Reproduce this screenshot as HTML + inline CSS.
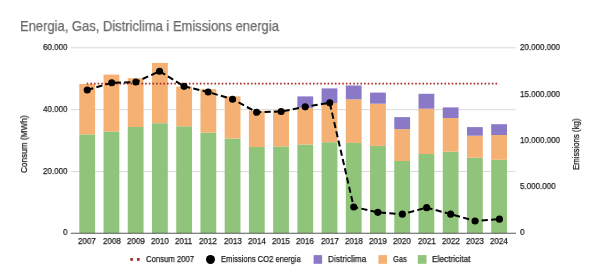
<!DOCTYPE html>
<html><head><meta charset="utf-8"><style>
html,body{margin:0;padding:0;background:#fff;}
body{width:600px;height:278px;position:relative;overflow:hidden;font-family:"Liberation Sans",sans-serif;}
.tx{position:absolute;white-space:nowrap;transform-origin:0 0;will-change:transform;-webkit-text-stroke:0.25px currentColor;}
svg{position:absolute;left:0;top:0;}
</style></head><body>
<svg width="600" height="278" viewBox="0 0 600 278">
<line x1="71" y1="47.8" x2="515.5" y2="47.8" stroke="#d9d9d9" stroke-width="1"/>
<line x1="71" y1="109.7" x2="515.5" y2="109.7" stroke="#d9d9d9" stroke-width="1"/>
<line x1="71" y1="171.6" x2="515.5" y2="171.6" stroke="#d9d9d9" stroke-width="1"/>
<rect x="79.30" y="134.4" width="15.8" height="98.90" fill="#91c47b"/>
<rect x="79.30" y="84.0" width="15.8" height="50.40" fill="#f4b173"/>
<rect x="103.53" y="131.4" width="15.8" height="101.90" fill="#91c47b"/>
<rect x="103.53" y="74.6" width="15.8" height="56.80" fill="#f4b173"/>
<rect x="127.76" y="127.0" width="15.8" height="106.30" fill="#91c47b"/>
<rect x="127.76" y="78.2" width="15.8" height="48.80" fill="#f4b173"/>
<rect x="151.99" y="123.2" width="15.8" height="110.10" fill="#91c47b"/>
<rect x="151.99" y="62.9" width="15.8" height="60.30" fill="#f4b173"/>
<rect x="176.22" y="126.3" width="15.8" height="107.00" fill="#91c47b"/>
<rect x="176.22" y="86.6" width="15.8" height="39.70" fill="#f4b173"/>
<rect x="200.45" y="132.7" width="15.8" height="100.60" fill="#91c47b"/>
<rect x="200.45" y="89.2" width="15.8" height="43.50" fill="#f4b173"/>
<rect x="224.68" y="138.5" width="15.8" height="94.80" fill="#91c47b"/>
<rect x="224.68" y="96.3" width="15.8" height="42.20" fill="#f4b173"/>
<rect x="248.91" y="147" width="15.8" height="86.30" fill="#91c47b"/>
<rect x="248.91" y="110.8" width="15.8" height="36.20" fill="#f4b173"/>
<rect x="273.14" y="146.4" width="15.8" height="86.90" fill="#91c47b"/>
<rect x="273.14" y="109.9" width="15.8" height="36.50" fill="#f4b173"/>
<rect x="297.36" y="144.5" width="15.8" height="88.80" fill="#91c47b"/>
<rect x="297.36" y="107.8" width="15.8" height="36.70" fill="#f4b173"/>
<rect x="297.36" y="96.4" width="15.8" height="11.40" fill="#8a79c6"/>
<rect x="321.59" y="142.2" width="15.8" height="91.10" fill="#91c47b"/>
<rect x="321.59" y="103.0" width="15.8" height="39.20" fill="#f4b173"/>
<rect x="321.59" y="88.4" width="15.8" height="14.60" fill="#8a79c6"/>
<rect x="345.82" y="142.9" width="15.8" height="90.40" fill="#91c47b"/>
<rect x="345.82" y="99.3" width="15.8" height="43.60" fill="#f4b173"/>
<rect x="345.82" y="85.5" width="15.8" height="13.80" fill="#8a79c6"/>
<rect x="370.05" y="145.9" width="15.8" height="87.40" fill="#91c47b"/>
<rect x="370.05" y="103.7" width="15.8" height="42.20" fill="#f4b173"/>
<rect x="370.05" y="92.6" width="15.8" height="11.10" fill="#8a79c6"/>
<rect x="394.28" y="161.0" width="15.8" height="72.30" fill="#91c47b"/>
<rect x="394.28" y="129.1" width="15.8" height="31.90" fill="#f4b173"/>
<rect x="394.28" y="117.1" width="15.8" height="12.00" fill="#8a79c6"/>
<rect x="418.51" y="154.0" width="15.8" height="79.30" fill="#91c47b"/>
<rect x="418.51" y="108.7" width="15.8" height="45.30" fill="#f4b173"/>
<rect x="418.51" y="93.8" width="15.8" height="14.90" fill="#8a79c6"/>
<rect x="442.74" y="151.7" width="15.8" height="81.60" fill="#91c47b"/>
<rect x="442.74" y="118" width="15.8" height="33.70" fill="#f4b173"/>
<rect x="442.74" y="107.4" width="15.8" height="10.60" fill="#8a79c6"/>
<rect x="466.97" y="157.7" width="15.8" height="75.60" fill="#91c47b"/>
<rect x="466.97" y="135.7" width="15.8" height="22.00" fill="#f4b173"/>
<rect x="466.97" y="127.1" width="15.8" height="8.60" fill="#8a79c6"/>
<rect x="491.20" y="159.8" width="15.8" height="73.50" fill="#91c47b"/>
<rect x="491.20" y="135.0" width="15.8" height="24.80" fill="#f4b173"/>
<rect x="491.20" y="124.2" width="15.8" height="10.80" fill="#8a79c6"/>
<line x1="70.8" y1="233.3" x2="516" y2="233.3" stroke="#595959" stroke-width="1.1"/>
<line x1="86.7" y1="83.7" x2="498.3" y2="83.7" stroke="#a82c26" stroke-width="1.7" stroke-dasharray="1.6 2.05"/>
<polyline points="87.25,89.95 111.75,82.75 135.85,82.05 159.55,71.25 184.05,86.35 208.15,92.05 232.55,99.25 256.65,112.25 281.15,111.55 305.25,106.85 329.75,102.85 353.75,206.95 377.85,212.35 402.35,214.15 426.65,207.65 450.65,214.15 475.05,220.95 499.45,219.15" fill="none" stroke="#000" stroke-width="2" stroke-dasharray="6.2 3.3"/>
<circle cx="87.25" cy="89.95" r="3.55" fill="#000"/>
<circle cx="111.75" cy="82.75" r="3.55" fill="#000"/>
<circle cx="135.85" cy="82.05" r="3.55" fill="#000"/>
<circle cx="159.55" cy="71.25" r="3.55" fill="#000"/>
<circle cx="184.05" cy="86.35" r="3.55" fill="#000"/>
<circle cx="208.15" cy="92.05" r="3.55" fill="#000"/>
<circle cx="232.55" cy="99.25" r="3.55" fill="#000"/>
<circle cx="256.65" cy="112.25" r="3.55" fill="#000"/>
<circle cx="281.15" cy="111.55" r="3.55" fill="#000"/>
<circle cx="305.25" cy="106.85" r="3.55" fill="#000"/>
<circle cx="329.75" cy="102.85" r="3.55" fill="#000"/>
<circle cx="353.75" cy="206.95" r="3.55" fill="#000"/>
<circle cx="377.85" cy="212.35" r="3.55" fill="#000"/>
<circle cx="402.35" cy="214.15" r="3.55" fill="#000"/>
<circle cx="426.65" cy="207.65" r="3.55" fill="#000"/>
<circle cx="450.65" cy="214.15" r="3.55" fill="#000"/>
<circle cx="475.05" cy="220.95" r="3.55" fill="#000"/>
<circle cx="499.45" cy="219.15" r="3.55" fill="#000"/>
<rect x="130.3" y="258" width="2.6" height="2.8" fill="#a82c26"/><rect x="137" y="258" width="2.6" height="2.8" fill="#a82c26"/>
<circle cx="210.5" cy="259.5" r="4.5" fill="#000"/>
<rect x="313.6" y="255.1" width="8.5" height="8.7" fill="#8a79c6"/>
<rect x="378.4" y="255.1" width="8.6" height="8.7" fill="#f4b173"/>
<rect x="417.8" y="255.1" width="8.7" height="8.7" fill="#91c47b"/>
</svg>
<div class="tx" style="left:20.36px;top:18px;font-size:14.2px;line-height:16px;color:#6b6b6b;transform:scaleX(0.9145);">Energia, Gas, Districlima i Emissions energia</div>
<div class="tx" style="left:42.66px;top:42px;font-size:9px;line-height:10px;color:#222222;transform:scaleX(0.8900);">60.000</div>
<div class="tx" style="left:42.66px;top:104px;font-size:9px;line-height:10px;color:#222222;transform:scaleX(0.8900);">40.000</div>
<div class="tx" style="left:42.66px;top:166px;font-size:9px;line-height:10px;color:#222222;transform:scaleX(0.8900);">20.000</div>
<div class="tx" style="left:62.68px;top:227px;font-size:9px;line-height:10px;color:#222222;transform:scaleX(0.8900);">0</div>
<div class="tx" style="left:520.18px;top:42px;font-size:9px;line-height:10px;color:#222222;transform:scaleX(0.8900);">20.000.000</div>
<div class="tx" style="left:519.97px;top:89px;font-size:9px;line-height:10px;color:#222222;transform:scaleX(0.8900);">15.000.000</div>
<div class="tx" style="left:519.97px;top:135px;font-size:9px;line-height:10px;color:#222222;transform:scaleX(0.8900);">10.000.000</div>
<div class="tx" style="left:520.18px;top:181px;font-size:9px;line-height:10px;color:#222222;transform:scaleX(0.8900);">5.000.000</div>
<div class="tx" style="left:520.18px;top:227px;font-size:9px;line-height:10px;color:#222222;transform:scaleX(0.8900);">0</div>
<div class="tx" style="left:78.29px;top:236px;font-size:9px;line-height:10px;color:#222222;transform:scaleX(0.8900);">2007</div>
<div class="tx" style="left:102.52px;top:236px;font-size:9px;line-height:10px;color:#222222;transform:scaleX(0.8900);">2008</div>
<div class="tx" style="left:126.75px;top:236px;font-size:9px;line-height:10px;color:#222222;transform:scaleX(0.8900);">2009</div>
<div class="tx" style="left:150.98px;top:236px;font-size:9px;line-height:10px;color:#222222;transform:scaleX(0.8900);">2010</div>
<div class="tx" style="left:175.21px;top:236px;font-size:9px;line-height:10px;color:#222222;transform:scaleX(0.8900);">2011</div>
<div class="tx" style="left:199.44px;top:236px;font-size:9px;line-height:10px;color:#222222;transform:scaleX(0.8900);">2012</div>
<div class="tx" style="left:223.67px;top:236px;font-size:9px;line-height:10px;color:#222222;transform:scaleX(0.8900);">2013</div>
<div class="tx" style="left:247.90px;top:236px;font-size:9px;line-height:10px;color:#222222;transform:scaleX(0.8900);">2014</div>
<div class="tx" style="left:272.13px;top:236px;font-size:9px;line-height:10px;color:#222222;transform:scaleX(0.8900);">2015</div>
<div class="tx" style="left:296.36px;top:236px;font-size:9px;line-height:10px;color:#222222;transform:scaleX(0.8900);">2016</div>
<div class="tx" style="left:320.59px;top:236px;font-size:9px;line-height:10px;color:#222222;transform:scaleX(0.8900);">2017</div>
<div class="tx" style="left:344.82px;top:236px;font-size:9px;line-height:10px;color:#222222;transform:scaleX(0.8900);">2018</div>
<div class="tx" style="left:369.05px;top:236px;font-size:9px;line-height:10px;color:#222222;transform:scaleX(0.8900);">2019</div>
<div class="tx" style="left:393.28px;top:236px;font-size:9px;line-height:10px;color:#222222;transform:scaleX(0.8900);">2020</div>
<div class="tx" style="left:417.51px;top:236px;font-size:9px;line-height:10px;color:#222222;transform:scaleX(0.8900);">2021</div>
<div class="tx" style="left:441.74px;top:236px;font-size:9px;line-height:10px;color:#222222;transform:scaleX(0.8900);">2022</div>
<div class="tx" style="left:465.96px;top:236px;font-size:9px;line-height:10px;color:#222222;transform:scaleX(0.8900);">2023</div>
<div class="tx" style="left:490.19px;top:236px;font-size:9px;line-height:10px;color:#222222;transform:scaleX(0.8900);">2024</div>
<div class="tx" style="left:146.09px;top:254px;font-size:9px;line-height:10px;color:#222222;transform:scaleX(0.8589);">Consum 2007</div>
<div class="tx" style="left:221.40px;top:254px;font-size:9px;line-height:10px;color:#222222;transform:scaleX(0.8444);">Emissions CO2 energia</div>
<div class="tx" style="left:327.64px;top:254px;font-size:9px;line-height:10px;color:#222222;transform:scaleX(0.9228);">Districlima</div>
<div class="tx" style="left:392.70px;top:254px;font-size:9px;line-height:10px;color:#222222;transform:scaleX(0.8381);">Gas</div>
<div class="tx" style="left:432.34px;top:254px;font-size:9px;line-height:10px;color:#222222;transform:scaleX(0.9277);">Electricitat</div>
<div class="tx" style="left:19.00px;top:173.32px;font-size:9px;line-height:10px;color:#222222;transform:rotate(-90deg) scaleX(0.9136)">Consum (MWh)</div>
<div class="tx" style="left:571.00px;top:169.82px;font-size:9px;line-height:10px;color:#222222;transform:rotate(-90deg) scaleX(0.8721)">Emissions (kg)</div>
</body></html>
